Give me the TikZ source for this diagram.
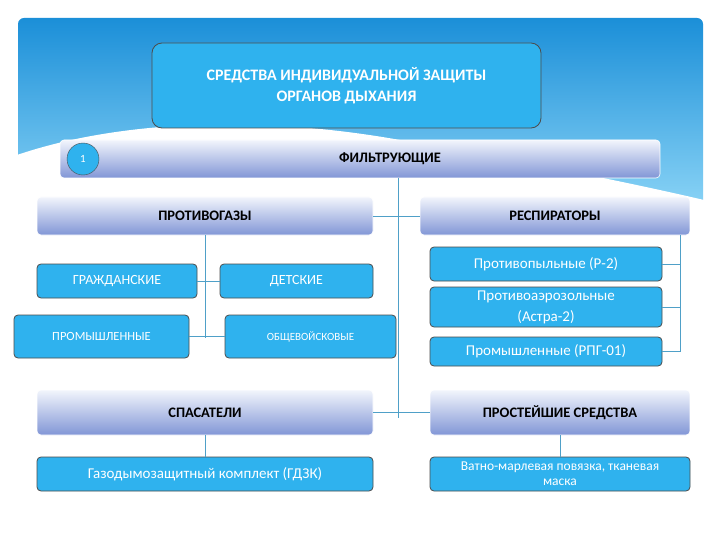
\documentclass[tikz,border=0pt]{standalone}
\usepackage{fontspec}
\setmainfont{Carlito}
\begin{document}
\begin{tikzpicture}[x=1pt,y=-1pt,
 bl/.style={draw=black!70,line width=0.8pt,rounded corners=4pt,fill=boxblue,text=white,align=center,inner sep=1pt,font=\fontsize{14}{16}\selectfont},
 gr/.style={draw=white,line width=0.6pt,rounded corners=4pt,top color=topg,bottom color=botg,align=center,font=\bfseries\fontsize{14.5}{16}\selectfont},
 ln/.style={draw=lineblue,line width=0.7pt}]
\definecolor{boxblue}{HTML}{2FB2EE}
\definecolor{topg}{HTML}{F2F5FC}
\definecolor{botg}{HTML}{8196D6}
\definecolor{lineblue}{HTML}{4FA0C8}
\definecolor{pan1}{HTML}{1B8FD8}
\definecolor{pan2}{HTML}{8ED6F7}
\useasboundingbox (0,0) rectangle (720,540);
\fill[white] (0,0) rectangle (720,540);
% panel
\shade[top color=pan1,bottom color=pan2,rounded corners=6pt]
 (18,215) -- (18,18) -- (703,18) -- (703,215) -- cycle;
\fill[white] (17,155) .. controls (120,120) and (260,115) .. (400,140)
 .. controls (520,160) and (640,185) .. (704,200) -- (704,230) -- (17,230) -- cycle;
\node[bl,minimum width=389pt,minimum height=85pt,rounded corners=10pt,font=\bfseries\fontsize{16}{21}\selectfont] (t) at (346.5,85.5) {СРЕДСТВА ИНДИВИДУАЛЬНОЙ ЗАЩИТЫ\\ОРГАНОВ ДЫХАНИЯ};
\node[gr,minimum width=600pt,minimum height=38pt] (f) at (360,159) {\hspace*{60pt}ФИЛЬТРУЮЩИЕ};
\node[circle,draw=black!70,fill=boxblue,text=white,minimum size=32pt,inner sep=0pt,font=\fontsize{11}{12}\selectfont] (c) at (83,159) {1};
\node[gr,minimum width=336pt,minimum height=38pt] (pg) at (205,216) {ПРОТИВОГАЗЫ};
\node[gr,minimum width=270pt,minimum height=38pt] (rs) at (555,216) {РЕСПИРАТОРЫ};
\node[bl,minimum width=160pt,minimum height=34pt] (g1) at (117,281) {ГРАЖДАНСКИЕ};
\node[bl,minimum width=153pt,minimum height=34pt] (g2) at (296.5,281) {ДЕТСКИЕ};
\node[bl,minimum width=175pt,minimum height=43pt,font=\fontsize{12.5}{14}\selectfont] (g3) at (101.5,336.5) {ПРОМЫШЛЕННЫЕ};
\node[bl,minimum width=171pt,minimum height=43pt,font=\fontsize{11}{13}\selectfont] (g4) at (310.5,336.5) {ОБЩЕВОЙСКОВЫЕ};
\node[bl,minimum width=232pt,minimum height=34pt,font=\fontsize{15}{17}\selectfont] (r1) at (546,264) {Противопыльные (Р-2)};
\node[bl,minimum width=232pt,minimum height=40pt,font=\fontsize{15}{21}\selectfont] (r2) at (546,307) {Противоаэрозольные\\(Астра-2)};
\node[bl,minimum width=232pt,minimum height=29pt,font=\fontsize{15}{17}\selectfont] (r3) at (546,351.5) {Промышленные (РПГ-01)};
\node[gr,minimum width=336pt,minimum height=45pt] (sp) at (205,412.5) {СПАСАТЕЛИ};
\node[gr,minimum width=260pt,minimum height=45pt] (pr) at (560,412.5) {ПРОСТЕЙШИЕ СРЕДСТВА};
\node[bl,minimum width=336pt,minimum height=34pt,font=\fontsize{15}{17}\selectfont] (gd) at (205,474) {Газодымозащитный комплект (ГДЗК)};
\node[bl,minimum width=260pt,minimum height=34pt,font=\fontsize{13.5}{15}\selectfont] (vm) at (560,474) {Ватно-марлевая повязка, тканевая\\маска};
% connectors
\coordinate (ca) at (398,178);
\coordinate (cb) at (398,418);
\draw[ln] (ca) -- (cb);
\draw[ln] (pg.east) -- (rs.west);
\draw[ln] (sp.east) -- (pr.west);
\coordinate (la) at (205,235);
\coordinate (lb) at (205,338);
\draw[ln] (la) -- (lb);
\draw[ln] (g1.east) -- (g2.west);
\draw[ln] (g3.east) -- (g4.west);
\coordinate (ra) at (680,235);
\coordinate (rb) at (680,351.5);
\draw[ln] (ra) -- (rb) -- (r3.east);
\draw[ln] (r1.east) -- (680,264);
\draw[ln] (r2.east) -- (680,307);
\draw[ln] (sp.south) -- (gd.north);
\draw[ln] (pr.south) -- (vm.north);
\end{tikzpicture}
\end{document}
